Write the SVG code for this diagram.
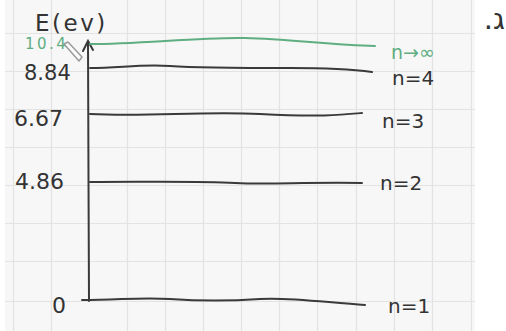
<svg xmlns="http://www.w3.org/2000/svg" width="506" height="331" viewBox="0 0 506 331">
<style>
.grid{stroke:#e3e3e3;stroke-width:1.2;fill:none}
.lvl{stroke:#3a3a3a;stroke-width:2;fill:none;stroke-linecap:round}
.inf{stroke:#5fae82;stroke-width:2;fill:none;stroke-linecap:round}
.t{font-family:"DejaVu Sans","Liberation Sans",sans-serif;fill:#333}
.g{fill:#5fae82}
</style>
<rect width="506" height="331" fill="#fff"/>
<g id="paper">
<rect x="5" y="0" width="470" height="331" fill="#f7f7f7"/>
<path class="grid" d="M13.5 0V331M51.5 0V331M127.5 0V331M165.5 0V331M203.5 0V331M241.5 0V331M279.5 0V331M317.5 0V331M356.5 0V331M394.5 0V331M432.5 0V331M471.5 0V331M5 33.5H475M5 71.5H475M5 109.5H475M5 147.5H475M5 185.5H475M5 223.5H475M5 261.5H475M5 301.5H475"/>
</g>
<g id="connectors">
<path id="axis" class="lvl" d="M89 301 L88.5 180 L88 42 M83 51 L88 41 L93 50"/>
<path class="inf" d="M90 44 C140 44 200 37 245 38 S330 45 375 46"/>
<path class="lvl" d="M90 68 C120 68 140 64 170 66 S250 68 290 68 S350 69 372 72"/>
<path class="lvl" d="M90 114 C150 117 200 111 260 114 S340 115 362 113"/>
<path class="lvl" d="M90 182 C150 182 200 181 235 183 S300 182 362 183"/>
<path class="lvl" d="M82 300 C120 300 140 297 170 299 S230 301 260 299 S330 303 365 305"/>
</g>
<g id="cursor">
<path d="M64 44 L68 42 L82 57 L79 61 Z" fill="#fbfbfb" stroke="#9a9a9a" stroke-width="1.5" stroke-linejoin="round"/>
</g>
<g id="axis-label"><text class="t" x="35" y="31" font-size="23" letter-spacing="2.5">E(ev)</text></g>
<g id="left-labels">
<text class="t g" x="25" y="49" font-size="15" letter-spacing="2.5">10.4</text>
<text class="t" x="24" y="80" font-size="21">8.84</text>
<text class="t" x="14" y="126" font-size="22">6.67</text>
<text class="t" x="15" y="189" font-size="22">4.86</text>
<text class="t" x="52" y="313" font-size="22">0</text>
</g>
<g id="right-labels">
<text class="t g" x="391" y="59" font-size="19">n→∞</text>
<text class="t" x="392" y="85" font-size="20">n=4</text>
<text class="t" x="382" y="128" font-size="20">n=3</text>
<text class="t" x="380" y="190" font-size="20">n=2</text>
<text class="t" x="388" y="313" font-size="20">n=1</text>
</g>
<g id="title"><text class="t" x="505" y="29" font-size="29" fill="#222" direction="rtl" font-family="Liberation Sans, DejaVu Sans, sans-serif">ג.</text></g>
</svg>
